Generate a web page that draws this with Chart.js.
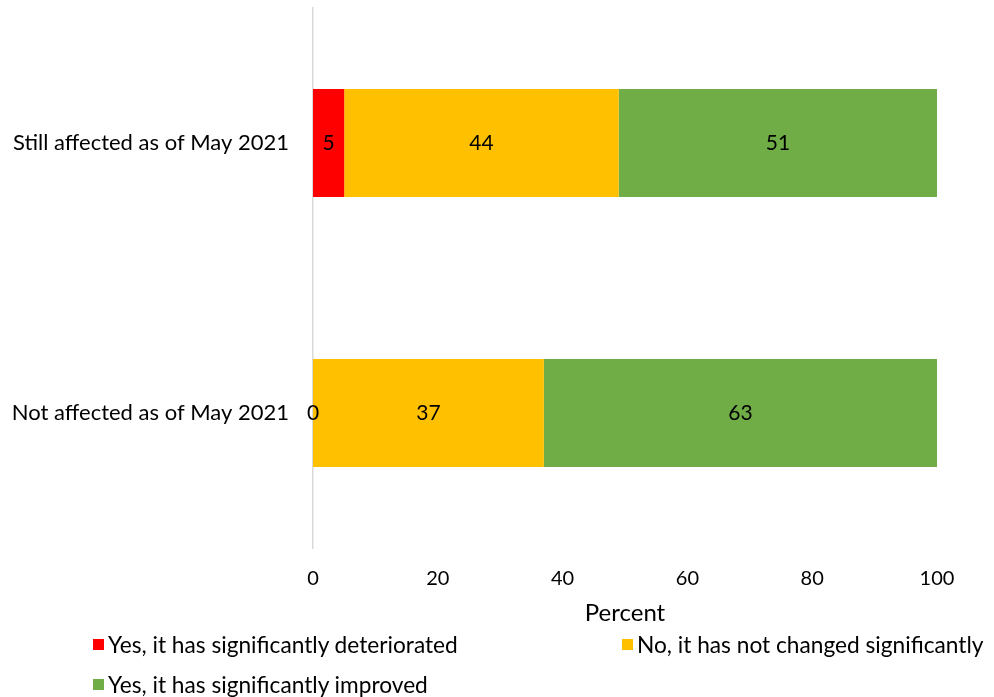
<!DOCTYPE html>
<html>
<head>
<meta charset="utf-8">
<script src="https://cdn.jsdelivr.net/npm/chart.js@4/dist/chart.umd.min.js"></script>
<style>
  body { margin: 0; background: #fff; }
  #wrap { position: relative; width: 994px; height: 697px; }
  #legend { position: absolute; left: 0; top: 0; width: 994px; height: 697px; pointer-events: none;
            font-family: Lato, "Open Sans", sans-serif; font-size: 22.7px; color: #000; }
  .item { position: absolute; display: flex; align-items: center; white-space: nowrap; height: 24px; }
  .box { width: 11px; height: 11px; margin-right: 4px; }
</style>
</head>
<body>
<div id="wrap">
  <canvas id="grafico" width="994" height="697"></canvas>
  <div id="legend"></div>
</div>
<script>
const categorias = ['Still affected as of May 2021', 'Not affected as of May 2021'];
const series = ['Yes, it has significantly deteriorated', 'No, it has not changed significantly', 'Yes, it has significantly improved'];
const colores = ['#FF0000', '#FFC000', '#70AD47'];
const deteriorado = [5, 0];
const sinCambio = [44, 37];
const mejorado = [51, 63];
const ticksX = [0, 20, 40, 60, 80, 100];

const fuente = 'Lato, "Open Sans", sans-serif';

// etiquetas de valor centradas en cada barra
const etiquetasPlugin = {
    id: 'etiquetas',
    afterDatasetsDraw(chart) {
        const ctx = chart.ctx;
        ctx.save();
        ctx.font = '21px ' + fuente;
        ctx.fillStyle = '#000';
        ctx.textAlign = 'center';
        ctx.textBaseline = 'middle';
        chart.data.datasets.forEach((ds, i) => {
            chart.getDatasetMeta(i).data.forEach((bar, j) => {
                const cx = (bar.x + bar.base) / 2;
                ctx.fillText(String(ds.data[j]), cx, bar.y);
            });
        });
        ctx.restore();
    }
};

const chart = new Chart(document.getElementById('grafico').getContext('2d'), {
    type: 'bar',
    data: {
        labels: categorias,
        datasets: [
            { label: series[0], data: deteriorado, backgroundColor: colores[0] },
            { label: series[1], data: sinCambio, backgroundColor: colores[1] },
            { label: series[2], data: mejorado, backgroundColor: colores[2] }
        ]
    },
    options: {
        indexAxis: 'y',
        responsive: false,
        animation: false,
        layout: { padding: { top: 8, right: 57, bottom: 72, left: 0 } },
        datasets: { bar: { barPercentage: 0.4, categoryPercentage: 1.0, borderWidth: 0 } },
        plugins: {
            legend: { display: false },
            tooltip: { enabled: false }
        },
        scales: {
            x: {
                stacked: true,
                min: 0,
                max: 100,
                afterBuildTicks: (axis) => { axis.ticks = ticksX.map(v => ({ value: v })); },
                grid: { display: false },
                border: { display: false },
                ticks: { color: '#000', font: { family: fuente, size: 20 }, padding: 11 },
                title: { display: true, text: 'Percent', color: '#000', font: { family: fuente, size: 24 }, padding: { top: 18, bottom: -3 } },
                afterFit: (axis) => { axis.height = 77; }
            },
            y: {
                stacked: true,
                grid: { display: false },
                border: { display: true, color: '#D9D9D9', width: 1.5 },
                ticks: { color: '#000', font: { family: fuente, size: 22 }, padding: 16 },
                afterFit: (axis) => {
                    axis.width = 313;
                    axis.paddingTop = 0;
                    axis.paddingBottom = 0;
                }
            }
        }
    },
    plugins: [etiquetasPlugin]
});

// leyenda en dos columnas como en el original
const legend = document.getElementById('legend');
const posiciones = [[93, 644], [622, 644], [93, 684]];
chart.data.datasets.forEach((ds, i) => {
    const el = document.createElement('div');
    el.className = 'item';
    el.style.left = posiciones[i][0] + 'px';
    el.style.top = (posiciones[i][1] - 12) + 'px';
    el.innerHTML = `<span class="box" style="background:${ds.backgroundColor}"></span><span>${ds.label}</span>`;
    legend.appendChild(el);
});
</script>
</body>
</html>
